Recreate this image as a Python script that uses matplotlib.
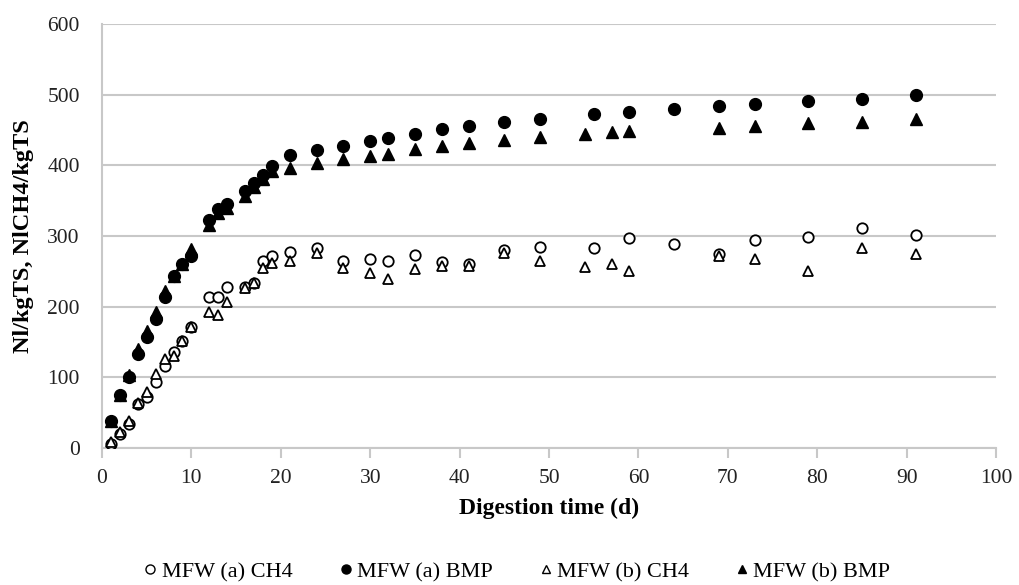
import matplotlib
matplotlib.use("Agg")
import matplotlib.pyplot as plt
from matplotlib.lines import Line2D

plt.rcParams['font.family'] = ['Liberation Serif', 'DejaVu Serif']

# Series (a)
days_a = [1, 2, 3, 4, 5, 6, 7, 8, 9, 10, 12, 13, 14, 16, 17, 18, 19, 21,
          24, 27, 30, 32, 35, 38, 41, 45, 49, 55, 59, 64, 69, 73, 79, 85, 91]
a_ch4 = [6, 20, 34, 62, 72, 94, 116, 136, 152, 171, 214, 213, 228, 228, 234, 265, 272, 277,
         283, 265, 268, 265, 273, 263, 261, 280, 284, 283, 297, 288, 275, 294, 298, 312, 302]
a_bmp = [38, 75, 100, 133, 157, 183, 213, 243, 260, 272, 323, 338, 345, 363, 375, 387, 399, 414,
         422, 428, 434, 439, 445, 451, 455, 461, 466, 473, 475, 480, 484, 487, 491, 494, 499]

# Series (b)
days_b = [1, 2, 3, 4, 5, 6, 7, 8, 9, 10, 12, 13, 14, 16, 17, 18, 19, 21,
          24, 27, 30, 32, 35, 38, 41, 45, 49, 54, 57, 59, 69, 73, 79, 85, 91]
b_ch4 = [8, 22, 38, 64, 79, 105, 126, 130, 152, 171, 193, 188, 206, 227, 233, 255, 262, 265,
         276, 255, 247, 239, 253, 257, 257, 276, 264, 256, 261, 251, 272, 268, 251, 283, 275]
b_bmp = [38, 75, 104, 140, 166, 192, 222, 243, 260, 281, 316, 333, 340, 356, 370, 380, 392, 396,
         403, 409, 413, 416, 423, 427, 431, 436, 440, 444, 447, 448, 453, 456, 460, 462, 465]

labels = ['MFW (a) CH4', 'MFW (a) BMP', 'MFW (b) CH4', 'MFW (b) BMP']

fig = plt.figure(figsize=(10.2, 5.85), dpi=100)
ax = fig.add_axes([102/1020, 1-448/585, (996-102)/1020, (448-24)/585])

grid_c = '#c8c8c8'
ax.plot(days_a, a_ch4, 'o', mfc='white', mec='black', mew=1.3, ms=7.5, ls='none', zorder=3)
ax.plot(days_a, a_bmp, 'o', mfc='black', mec='black', ms=8.5, ls='none', zorder=3)
ax.plot(days_b, b_ch4, '^', mfc='white', mec='black', mew=1.3, ms=7.5, ls='none', zorder=4)
ax.plot(days_b, b_bmp, '^', mfc='black', mec='black', ms=8.5, ls='none', zorder=4)

ax.set_xlim(0, 100)
ax.set_ylim(0, 600)
ax.set_xticks(range(0, 101, 10))
ax.set_yticks(range(0, 601, 100))
ax.yaxis.grid(True, color=grid_c, lw=1.5)
ax.set_axisbelow(True)
for s in ['top', 'right']:
    ax.spines[s].set_visible(False)
for s in ['left', 'bottom']:
    ax.spines[s].set_color(grid_c)
    ax.spines[s].set_linewidth(1.5)
ax.tick_params(axis='x', direction='out', length=7, color=grid_c, width=1.5,
               labelsize=15.5, pad=8, labelcolor='#222222')
ax.tick_params(axis='y', length=0, labelsize=15.5, pad=16, labelcolor='#222222')
ax.set_xlabel('Digestion time (d)', fontsize=17, fontweight='bold')
ax.set_ylabel('Nl/kgTS, NlCH4/kgTS', fontsize=17.5, fontweight='bold')
ax.xaxis.set_label_coords(0.5, -0.118)
ax.yaxis.set_label_coords(-0.076, 0.5)

handles = [
    Line2D([], [], marker='o', ls='none', mfc='white', mec='black', mew=1.0, ms=6.5),
    Line2D([], [], marker='o', ls='none', mfc='black', mec='black', ms=6.5),
    Line2D([], [], marker='^', ls='none', mfc='white', mec='black', mew=1.0, ms=6),
    Line2D([], [], marker='^', ls='none', mfc='black', mec='black', ms=6),
]
fig.legend(handles, labels, loc='center', bbox_to_anchor=(516/1020, 1-572/585), ncol=4,
           frameon=False, fontsize=16, handletextpad=0.1, columnspacing=2.0, handlelength=0.8)

fig.savefig('out.png', dpi=100)
